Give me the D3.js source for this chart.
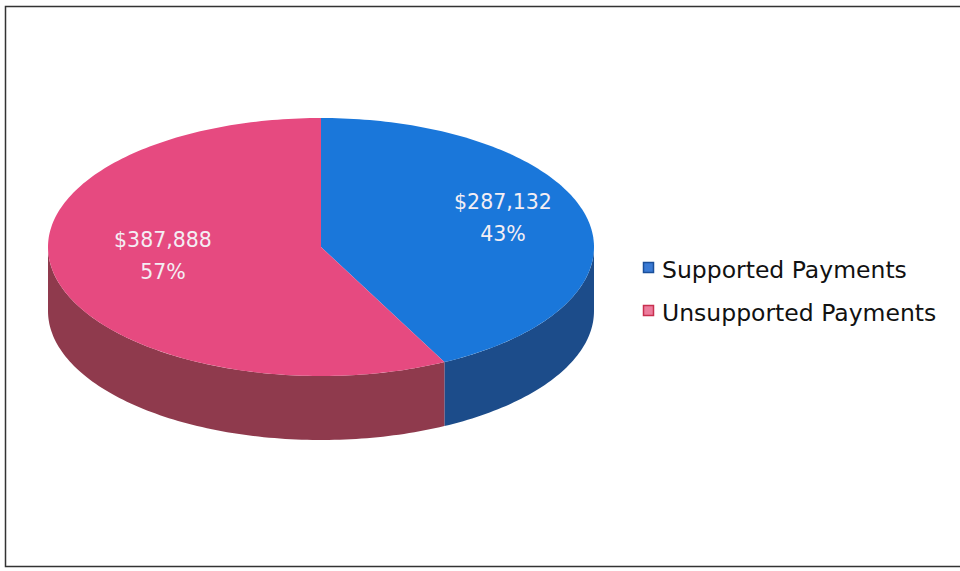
<!DOCTYPE html>
<html>
<head>
<meta charset="utf-8">
<script src="https://cdn.jsdelivr.net/npm/d3@7"></script>
<style>
  body { margin: 0; background: #fff; }
  svg { display: block; }
</style>
</head>
<body>
<div id="container"></div>
<script>
const categories = ['Supported Payments', 'Unsupported Payments']
const values = [287132, 387888]
const valueLabels = ['$287,132', '$387,888']
const topColors = ['#1a77da', '#e64a80']
const sideColors = ['#1c4c8a', '#8f3a4d']
const legendColors = ['#3a7ad4', '#ec7c9c']
const legendStroke = ['#1a4f9a', '#c8304f']

const width = 960
const height = 571

const svg = d3.select('#container')
  .append('svg')
  .attr('width', width)
  .attr('height', height)

// chart frame
svg.append('rect')
  .attr('x', 5.5)
  .attr('y', 6.5)
  .attr('width', 980)
  .attr('height', 560)
  .attr('fill', 'none')
  .attr('stroke', '#333')
  .attr('stroke-width', 1.5)

const cx = 321
const cy = 247
const rx = 273
const ry = 129
const depth = 64

const total = d3.sum(values)
const pie = d3.pie().sort(null)
const arcs = pie(values)

const pt = (a, dy = 0) => [cx + rx * Math.sin(a), cy - ry * Math.cos(a) + dy]

function rimPoints (a0, a1, dy) {
  const n = Math.max(2, Math.ceil(Math.abs(a1 - a0) / 0.02))
  return d3.range(n + 1).map(i => pt(a0 + (a1 - a0) * i / n, dy))
}

const line = d3.line()

// side walls (front half only)
arcs.forEach((d, i) => {
  const a0 = Math.max(d.startAngle, Math.PI / 2)
  const a1 = Math.min(d.endAngle, Math.PI * 3 / 2)
  if (a1 <= a0) return
  const pts = rimPoints(a0, a1, 0).concat(rimPoints(a1, a0, depth))
  svg.append('path')
    .attr('d', line(pts) + 'Z')
    .attr('fill', sideColors[i])
})

// top faces
arcs.forEach((d, i) => {
  const pts = [[cx, cy]].concat(rimPoints(d.startAngle, d.endAngle, 0))
  svg.append('path')
    .attr('d', line(pts) + 'Z')
    .attr('fill', topColors[i])
})

// data labels
const labelPos = [[503, 209], [163, 247]]
arcs.forEach((d, i) => {
  const g = svg.append('text')
    .attr('x', labelPos[i][0])
    .attr('y', labelPos[i][1])
    .attr('text-anchor', 'middle')
    .attr('fill', '#f4eef4')
    .style('font-family', 'DejaVu Sans, sans-serif')
    .style('font-size', '20.5px')
  g.append('tspan').text(valueLabels[i])
  g.append('tspan')
    .attr('x', labelPos[i][0])
    .attr('dy', 32)
    .text(Math.round(values[i] / total * 100) + '%')
})

// legend
const legend = svg.append('g').attr('transform', 'translate(643,262)')
categories.forEach((c, i) => {
  const row = legend.append('g').attr('transform', `translate(0,${i * 43})`)
  row.append('rect')
    .attr('x', 0.5)
    .attr('y', 0.5)
    .attr('width', 10)
    .attr('height', 10)
    .attr('fill', legendColors[i])
    .attr('stroke', legendStroke[i])
    .attr('stroke-width', 1.5)
  row.append('text')
    .attr('x', 19)
    .attr('y', 16)
    .attr('fill', '#111')
    .style('font-family', 'DejaVu Sans, sans-serif')
    .style('font-size', '23.5px')
    .text(c)
})
</script>
</body>
</html>
